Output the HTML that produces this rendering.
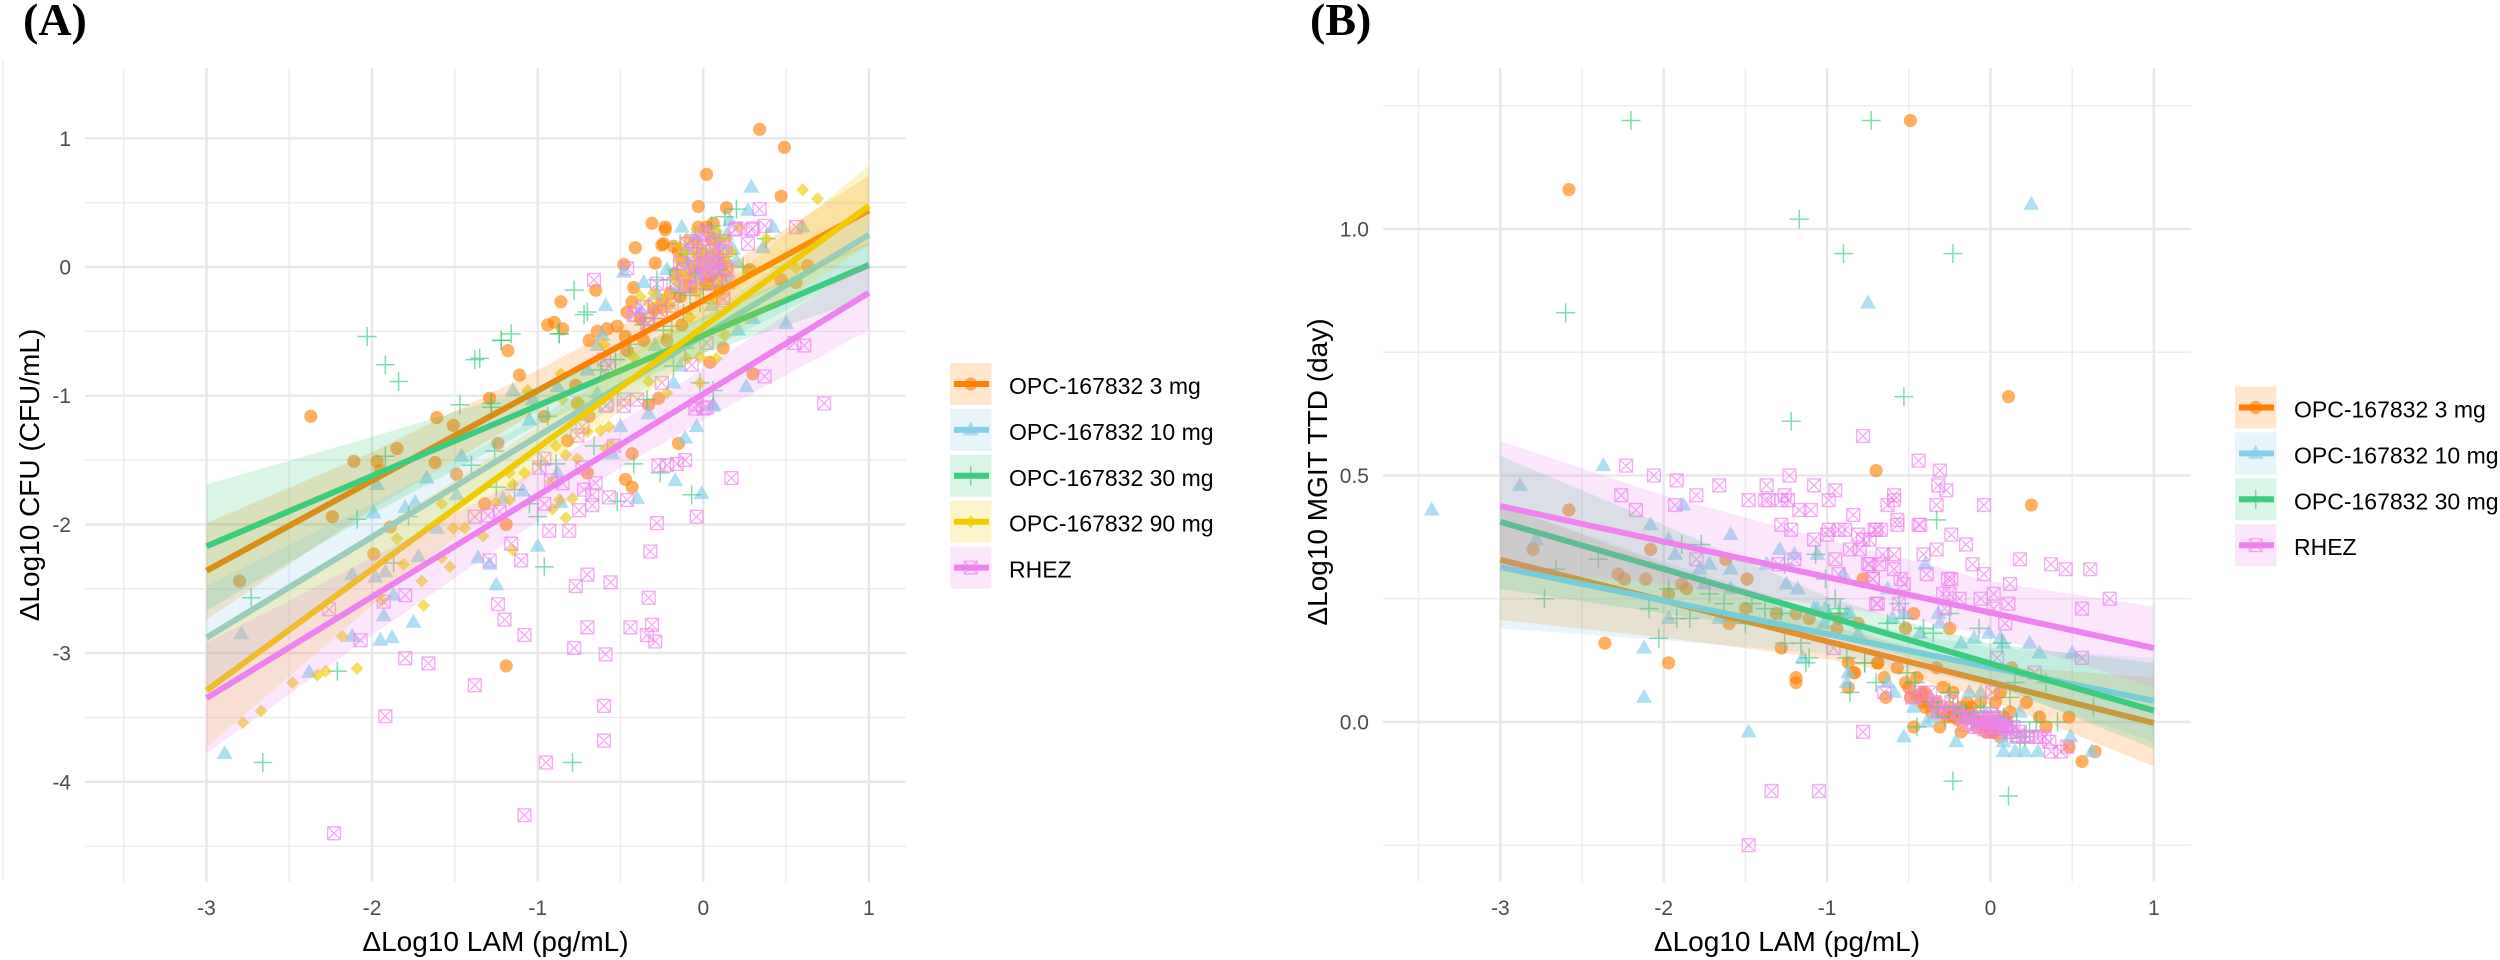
<!DOCTYPE html>
<html>
<head>
<meta charset="utf-8">
<title>Delta Log10 LAM regressions</title>
<style>
html,body{margin:0;padding:0;background:#fff;}
svg{display:block;}
text{font-family:"Liberation Sans",Arial,sans-serif;}
</style>
</head>
<body>
<svg id="fig" xmlns="http://www.w3.org/2000/svg" width="2500" height="960" viewBox="0 0 2500 960"></svg>
<script>
/* ---------- shared ---------- */
const xTicksShared = [-3,-2,-1,0,1];
const ribbonX = [-3,-2,-1,-0.5,0,1];
const lineX = [-3,1];
const legendLabelsA = ['OPC-167832 3 mg','OPC-167832 10 mg','OPC-167832 30 mg','OPC-167832 90 mg','RHEZ'];
const legendLabelsB = ['OPC-167832 3 mg','OPC-167832 10 mg','OPC-167832 30 mg','RHEZ'];

/* ---------- panel A values ---------- */
const aYTicks = [-4,-3,-2,-1,0,1];
const aOrangePts = [[.34,1.07],[.49,.93],[.02,.72],[.47,.55],[-.03,.47],[.14,.46],[-.31,.34],[-.23,.31],[-.23,.29],[-.41,.15],[-.24,.18],[-.25,.17],[-.48,.02],[-.29,.03],[-.03,.31],[.06,.34],[.02,.31],[-.42,-.16],[-.65,-.18],[-.86,-.27],[-.43,-.27],[-.46,-.35],[-.94,-.45],[-.9,-.43],[-.85,-.48],[-.64,-.5],[-.58,-.48],[-.52,-.46],[-.69,-.57],[-.47,-.54],[-1.18,-.65],[-1.11,-.84],[-1.29,-1.02],[.3,-.83],[.04,-.74],[-.27,-1.02],[.47,-.1],[.56,-.12],[.63,.01],[.28,-.02],[.12,-.63],[-.13,-.45],[-.22,-.57],[-.36,-.57],[-.46,-.65],[-.77,-.92],[-.76,-1.06],[-.33,-1.07],[-.1,-.08],[-.06,0],[.02,-.13],[.06,.05],[.1,-.18],[-.02,.1],[-.14,-.23],[-.18,.16],[-2.37,-1.16],[-1.61,-1.17],[-1.51,-1.23],[-1.85,-1.41],[-2.11,-1.51],[-1.97,-1.51],[-1.62,-1.52],[-1.24,-1.37],[-1.49,-1.61],[-2.24,-1.94],[-2.8,-2.44],[-1.99,-2.23],[-1.89,-2.02],[-1.19,-3.1],[-1.32,-1.84],[-.82,-1.35],[-1.19,-2],[-.7,-1.6],[-.43,-1.45],[-.47,-1.65],[-.43,-1.71],[-.15,-1.37],[-.96,-1.16],[-.69,-1.16],[-1.95,-1.58],[-.15,.12],[-.12,.05],[-.08,-.15],[-.04,-.04],[.01,.03],[.04,-.07],[.08,.1],[.11,.02],[-.17,-.05],[-.2,-.2],[-.25,-.26],[-.3,-.33],[-.38,-.4],[-.05,.2],[.05,.22]];
const aSkyPts = [[.29,.62],[.27,.44],[-.13,.31],[.6,.31],[.42,.31],[-.59,-.3],[-.36,-.12],[-.22,-.02],[-.48,-.04],[.36,.15],[.5,-.44],[.26,-.93],[.21,-.49],[.3,-.4],[-.61,-.53],[-.64,-.61],[-.7,-.8],[-.29,-.61],[-1.15,-.96],[-.88,-.93],[-.14,-.77],[-.18,-.9],[.06,-1.07],[-.64,-.98],[-1.03,-1.03],[.08,.27],[.16,.36],[.04,.1],[-.08,.02],[.1,.18],[0,.12],[.2,.05],[-.15,-.15],[-.28,-.2],[.15,-.1],[.05,-.3],[-.38,-.33],[-2.89,-3.78],[-2.79,-2.85],[-2.12,-2.39],[-1.98,-2.41],[-1.92,-2.37],[-1.72,-2.25],[-1.61,-2.03],[-1.99,-1.91],[-1.97,-1.69],[-1.8,-1.87],[-1.74,-1.83],[-1.67,-1.64],[-1.46,-1.47],[-1.05,-1.19],[-1.49,-1.77],[-1.36,-2.26],[-1.29,-2.31],[-1.25,-2.47],[-1,-2.17],[-.17,-1.66],[-.01,-1.76],[-.04,-1.24],[.06,-1.08],[-.11,-1.33],[-.4,-1.8],[-.86,-1.83],[-.88,-1.6],[-1.87,-2.55],[-1.93,-2.71],[-1.75,-2.76],[-2.12,-2.87],[-1.95,-2.9],[-1.88,-2.88],[-2.38,-3.15],[-1.09,-1.74],[-1.21,-1.8],[-.5,-1.24],[-.33,-1.14],[-.55,-1.45],[.02,.03],[.07,.06],[-.03,-.08],[.11,-.04],[-.1,.14],[.14,.25],[-.05,.25],[.18,.14]];
const aGreenPts = [[-.78,-.18],[-.7,-.35],[-.87,-.52],[-1.16,-.52],[-1.22,-.57],[.2,.45],[.13,.39],[-.14,.18],[.38,.22],[.24,0],[-.53,-.72],[-.62,-.8],[-.3,-.4],[-.19,-.46],[-.24,-.49],[-.11,-.63],[-.18,-.77],[-.02,-.9],[.06,-.96],[-.34,-1.03],[-1.28,-1.06],[-1.35,-.71],[.02,.08],[-.05,-.05],[.08,-.02],[-.1,.1],[-.14,-.2],[.1,.22],[-.2,-.1],[.15,.1],[-.02,-.28],[.05,.32],[-.28,-.1],[-.12,-.36],[-2.03,-.54],[-1.92,-.76],[-1.84,-.89],[-1.47,-1.07],[-1.28,-1.09],[-1.38,-.72],[-1.22,-.57],[-.87,-.52],[-.72,-.37],[-1.26,-1.43],[-1.4,-1.54],[-1.92,-1.47],[-2.09,-1.96],[-1.78,-1.94],[-2.73,-2.57],[-2.21,-3.14],[-2.66,-3.85],[-.79,-3.85],[-.96,-2.33],[-1,-1.94],[-.89,-1.53],[-.66,-1.39],[-.42,-1.53],[-.26,-1.6],[-.07,-1.77],[-.52,-1.82],[-1.25,-1.71],[-1.14,-1.73],[-.94,-1.16],[-1.87,-2.3],[-1.05,-1.84],[-.98,-1.53],[-.06,.15],[.04,.0],[.12,.08],[-.16,-.02],[-.08,-.22],[.0,-.17],[-.22,-.3],[.07,-.15],[-.36,-.45],[-.45,-.6]];
const aYellowPts = [[-2.48,-3.23],[-2.33,-3.17],[-2.28,-3.14],[-2.09,-3.12],[-2.67,-3.45],[-2.78,-3.54],[-2.18,-2.87],[-1.69,-2.63],[-1.94,-2.59],[-1.81,-2.31],[-1.7,-2.44],[-1.53,-2.33],[-1.85,-2.11],[-1.58,-1.84],[-1.58,-2.26],[-1.15,-2.2],[-1.33,-2.09],[-1.51,-2.03],[-1.44,-2.03],[-1.25,-1.83],[-1.17,-1.81],[-1.15,-1.69],[-1.08,-1.6],[-1.17,-1.6],[-.91,-1.88],[-.87,-1.81],[-.79,-1.8],[-.83,-1.95],[-.89,-1.39],[-.83,-1.46],[-.76,-1.49],[-.7,-1.28],[-.62,-1.27],[-.57,-1.24],[-.59,-1.41],[-.55,-1.38],[-.92,-1.67],[.6,.6],[.69,.53],[.38,.22],[.22,.31],[.14,.22],[-.13,-.04],[-.38,-.23],[-.3,-.2],[-.6,-.6],[-.02,-.9],[.08,-.71],[.13,-.53],[-.33,-.89],[-.22,-.98],[-1.06,-.96],[-.86,-.83],[-.42,-.7],[-.1,-.71],[-.02,-.7],[.56,-.01],[-.08,-.39],[-.25,-.33],[-.75,-1.05],[-.85,-1.03],[-.05,.1],[.03,.05],[.08,.02],[-.08,-.05],[-.02,-.12],[.1,-.1],[-.15,.05],[.05,.18],[-.1,.22],[0,-.02],[.12,.1],[.03,.25],[-.03,.17],[.15,-.02],[-.13,-.15],[-.04,-.2],[-.2,-.3],[.07,-.25],[-.06,.02],[.01,.12],[.06,.1],[-.11,.12],[.1,.2],[.14,.05],[-.01,.07],[.04,-.05],[-.09,-.1],[.09,-.17],[-.17,-.1],[-.23,-.25],[-.28,-.3],[-.33,-.28],[.17,.12],[-.04,.29],[.08,.28],[.02,-.14],[-.14,.16]];
const aPinkPts = [[-.66,-.1],[-.46,-.01],[-.28,-.13],[-.29,-.3],[-.19,-.3],[-.41,-.37],[.34,.45],[.37,.32],[.56,.31],[.2,.3],[.27,.18],[.3,.3],[-.1,.18],[-.14,.03],[.13,.15],[.02,.27],[.61,-.61],[.55,-.59],[.37,-.85],[-.07,-.76],[.02,-.59],[-.25,-.9],[-.48,-1.03],[-.4,-1.03],[.73,-1.06],[-.33,-.44],[.12,-.26],[-.57,-.77],[-.6,-.72],[-.58,-1.07],[-.04,-1.07],[.02,-1.09],[.05,.05],[-.05,.1],[.1,.12],[-.12,-.02],[-.08,-.15],[.02,-.05],[.08,-.02],[.13,0],[-.02,.02],[-.18,-.13],[0,.15],[.03,.22],[-.07,.2],[.12,.2],[.15,-.12],[-2.23,-4.4],[-1.08,-4.26],[-.95,-3.85],[-.6,-3.68],[-.6,-3.41],[-1.92,-3.49],[-1.38,-3.25],[-1.66,-3.08],[-1.8,-3.04],[-2.07,-2.9],[-2.26,-2.66],[-1.93,-2.6],[-1.8,-2.55],[-1.24,-2.62],[-1.2,-2.74],[-1.08,-2.86],[-1.29,-2.28],[-1.16,-2.15],[-1.1,-2.28],[-.93,-2.05],[-.81,-2.05],[-.75,-1.89],[-.67,-1.85],[-.57,-1.79],[-.46,-1.81],[-.28,-1.99],[-.04,-1.94],[-.32,-2.21],[-.7,-2.39],[-.77,-2.48],[-.56,-2.45],[-.33,-2.57],[-.7,-2.8],[-.44,-2.8],[-.31,-2.78],[-.34,-2.86],[-.29,-2.91],[-.78,-2.96],[-.59,-3.01],[.17,-1.64],[0,-1.1],[-.05,-1.1],[-.27,-1.54],[-.22,-1.54],[-.16,-1.53],[-.11,-1.5],[-.96,-1.84],[-.65,-1.68],[-.72,-1.73],[-.67,-1.77],[-.54,-1.39],[-.96,-1.49],[-.99,-1.56],[-.92,-1.66],[-.85,-1.68],[-.73,-1.56],[-.76,-1.31],[-.73,-1.24],[-1.38,-1.94],[-1.3,-1.93],[-1.23,-1.9],[-.59,-1.08],[-.48,-1.08],[-.01,.26],[.19,.29],[.29,.29],[.06,.13],[-.05,0],[0,.03],[.08,.03],[.14,-.02],[.03,-.05],[-.04,-.08],[-.11,-.15],[.02,-.13],[.1,-.11],[.06,0],[-.37,-.31],[-.42,-.37],[-.26,-.35],[-.34,-.44],[.12,-.24]];
const aOrangeFit = [-2.36,.44];
const aSkyFit = [-2.88,.25];
const aGreenFit = [-2.17,.015];
const aYellowFit = [-3.29,.476];
const aPinkFit = [-3.35,-.2];
const aOrangeUpper = [-1.99,-1.44,-.8,-.46,-.11,.71];
const aOrangeLower = [-2.74,-1.88,-1.12,-.76,-.41,.17];
const aSkyUpper = [-2.48,-1.84,-1.175,-.78,-.39,.5];
const aSkyLower = [-3.28,-2.36,-1.455,-1.06,-.67,0];
const aGreenUpper = [-1.69,-1.32,-.93,-.66,-.39,.195];
const aGreenLower = [-2.67,-1.92,-1.23,-.94,-.67,-.24];
const aYellowUpper = [-2.85,-2.07,-1.24,-.76,-.27,.79];
const aYellowLower = [-3.73,-2.63,-1.58,-1.12,-.67,.17];
const aPinkUpper = [-2.92,-2.26,-1.575,-1.2,-.79,.05];
const aPinkLower = [-3.78,-2.86,-1.975,-1.56,-1.19,-.49];

/* ---------- panel B values ---------- */
const bYTicks = [0,.5,1];
const bYTickLabels = ['0.0','0.5','1.0'];
const bOrangePts = [[-2.58,1.08],[-.49,1.22],[-2.58,.43],[-2.8,.35],[-2.08,.35],[-2.28,.3],[-2.24,.29],[-2.11,.29],[-1.89,.28],[-1.86,.27],[-1.62,.33],[-1.49,.29],[-1.97,.26],[-1.5,.23],[-1.31,.22],[-1.19,.22],[-1.11,.21],[-1.6,.2],[-2.36,.16],[-1.97,.12],[-1.28,.15],[-.87,.12],[-.84,.1],[-1.19,.09],[-.7,.51],[-.78,.29],[-.93,.21],[-.94,.19],[-.81,.2],[-.69,.12],[.11,.66],[.25,.44],[-.47,.22],[-.25,.19],[-.52,.19],[.13,.11],[-.33,.11],[-1.19,.08],[-.87,.07],[-.83,.1],[-.69,.12],[-.65,.09],[-.64,.05],[-.57,.11],[-.52,.08],[-.45,.09],[-.42,.06],[-.49,.05],[-.47,-.01],[-.38,.04],[-.31,-.01],[-.23,.01],[-.29,.07],[-.23,.06],[-.18,-.02],[-.06,.04],[.03,.04],[0,-.02],[.22,.04],[.3,.01],[.48,.01],[.34,-.01],[.48,-.05],[.64,-.06],[.56,-.08],[.06,.06],[-.06,0],[.06,-.03],[-.14,.04],[-.25,.03],[-.14,.02],[-.02,-.01],[.02,-.02],[.1,0],[-.45,.05],[-.42,.04],[-.4,.03],[-.36,.02],[-.3,.02],[-.27,.01],[-.22,.02],[-.18,.03],[-.12,.03],[-.1,.01],[-.08,-.01],[-.03,-.02],[0,0],[.03,-.015],[.05,-.01],[.08,.01],[.12,.02],[-.5,.07],[-.4,.06],[-.33,.04],[-.2,.005],[-.15,.005]];
const bSkyPts = [[-3.42,.43],[.25,1.05],[-.75,.85],[-2.88,.48],[-2.37,.52],[-2.78,.37],[-2.08,.4],[-1.97,.37],[-1.88,.44],[-1.93,.34],[-1.72,.32],[-1.59,.38],[-1.59,.31],[-1.78,.31],[-1.97,.21],[-2.12,.15],[-1.75,.28],[-1.66,.21],[-1.59,.27],[-1.37,.32],[-1.29,.35],[-1.2,.34],[-1.25,.28],[-1.18,.27],[-1.06,.34],[-.9,.3],[-1.08,.23],[-1.01,.23],[-.86,.22],[-1.02,.2],[-1.15,.13],[-.81,.18],[-.87,.1],[-.4,.32],[-.63,.27],[-.53,.22],[-.32,.22],[-.31,.2],[-.18,.16],[-.1,.17],[-.01,.18],[.06,.17],[.08,.16],[.24,.16],[.3,.14],[.5,.14],[-.43,.18],[-.6,.21],[-.88,.22],[-1.06,.23],[-.88,.08],[-.59,.06],[-.47,.03],[-.39,0],[-.53,-.03],[-.21,-.04],[.08,-.04],[.08,-.06],[.15,-.06],[.21,-.06],[.29,-.06],[.62,-.06],[.49,-.03],[.18,.02],[-.13,.06],[-.06,.06],[-.35,.01],[.08,0],[-.63,.08],[-1.48,-.02],[-2.12,.05]];
const bGreenPts = [[-2.2,1.22],[-.73,1.22],[-1.17,1.02],[-.9,.95],[-.23,.95],[-2.6,.83],[-.53,.66],[-1.22,.61],[-2.4,.33],[-1.89,.36],[-1.77,.36],[-2.66,.31],[-2.73,.25],[-2.09,.23],[-1.97,.27],[-1.92,.21],[-1.84,.21],[-1.72,.26],[-1.63,.24],[-2.03,.17],[-1.46,.24],[-1.38,.23],[-1.5,.2],[-1.28,.22],[-1.26,.16],[-1.16,.16],[-1.11,.13],[-1.13,.12],[-.95,.25],[-.99,.22],[-.93,.22],[-.88,.13],[-.77,.12],[-1.07,.34],[-1.01,.29],[-1.26,.32],[-.33,.41],[-.63,.2],[-.92,.23],[-.56,.24],[-.53,.21],[-.41,.19],[-.35,.18],[-.25,.22],[-.07,.19],[.07,.16],[-.86,.06],[-.7,.08],[-.77,.12],[-.45,-.01],[-.51,.1],[-.46,.08],[-.25,.06],[-.23,.03],[-.18,.02],[-.12,0],[.12,.05],[.15,.08],[.34,.08],[.63,.03],[.41,0],[.28,0],[.18,-.04],[.1,-.02],[.24,-.02],[-.04,.02],[.04,.01],[-.23,-.12],[.11,-.15],[-.35,.04],[-.32,.03],[-.28,.01],[-.2,.03],[-.15,.02],[-.1,.01],[-.06,.03],[0,.02],[.05,-.01],[.08,.01],[.13,-.02],[.16,0],[.21,-.03]];
const bPinkPts = [[-2.23,.52],[-2.06,.5],[-1.92,.49],[-1.8,.46],[-1.66,.48],[-2.26,.46],[-2.17,.43],[-1.93,.44],[-1.48,.45],[-1.37,.48],[-1.23,.5],[-1.38,.45],[-1.36,.45],[-1.28,.45],[-1.26,.46],[-1.24,.45],[-1.17,.43],[-1.1,.43],[-1.08,.48],[-.95,.47],[-.99,.45],[-.78,.58],[-1.28,.4],[-1.22,.39],[-1.08,.37],[-1,.38],[-.99,.39],[-.93,.39],[-.89,.39],[-.84,.42],[-.81,.38],[-.86,.35],[-.8,.35],[-.71,.39],[-1.2,.33],[-.95,.33],[-1.8,.33],[-1.3,.32],[-.75,.32],[-.93,.3],[-.72,.29],[-.7,.24],[-.44,.53],[-.31,.51],[-.32,.48],[-.27,.47],[-.33,.44],[-.59,.46],[-.59,.45],[-.63,.44],[-.04,.44],[-.57,.41],[-.57,.4],[-.44,.4],[-.43,.4],[-.7,.39],[-.67,.39],[-.24,.38],[-.15,.36],[-.33,.35],[-.41,.34],[-.59,.34],[-.66,.34],[-.74,.37],[-.78,.37],[-.11,.32],[-.04,.3],[-.39,.3],[.18,.33],[.37,.32],[.46,.31],[.61,.31],[.73,.25],[.12,.28],[-.26,.29],[-.24,.29],[-.59,.31],[-.55,.29],[-.53,.28],[-.74,.32],[-.68,.32],[-.72,.29],[-.29,.26],[-.25,.26],[-.19,.25],[-.06,.25],[.02,.26],[.11,.24],[.02,.23],[.56,.23],[.09,.2],[-.69,.24],[-.56,.24],[.56,.13],[.04,.13],[.27,.1],[-.96,.15],[-.28,.23],[-1.48,-.25],[-1.34,-.14],[-1.05,-.14],[-.78,-.02],[-.65,.06],[-.37,.06],[-.31,.03],[-.15,.01],[-.08,0],[-.02,0],[.02,-.01],[.08,0],[.14,-.01],[.2,-.03],[.3,-.03],[.37,-.06],[.43,-.06],[.47,-.05],[.01,.06],[.36,-.04],[-.02,-.01],[.02,.01],[-.06,.01],[.05,-.02],[.1,-.01],[-.1,-.01],[-.13,.01],[0,0],[.04,0],[.07,-.01],[-.04,-.015],[0,-.02],[.01,.015],[-.2,.02],[.12,-.02],[.16,-.03],[-.24,.04],[-.48,.05],[-.46,.06],[-.4,.05],[-.34,.04],[-.32,.02],[-.27,.02],[-.18,.01],[-.16,-.005],[-.12,0],[-.07,-.01],[-.05,.005],[-.01,.005],[.03,-.01],[.06,0],[.09,-.015],[.13,-.02],[.18,-.02],[.23,-.03],[.28,-.03],[.33,-.03]];
const bOrangeFit = [.329,-.002];
const bSkyFit = [.314,.043];
const bGreenFit = [.406,.023];
const bPinkFit = [.438,.15];
const bOrangeUpper = [.44,.32,.198,.152,.115,.09];
const bOrangeLower = [.207,.171,.128,.092,.045,-.09];
const bSkyUpper = [.44,.326,.218,.179,.151,.13];
const bSkyLower = [.19,.166,.138,.109,.071,-.04];
const bGreenUpper = [.54,.4,.254,.202,.159,.12];
const bGreenLower = [.27,.22,.174,.132,.079,-.055];
const bPinkUpper = [.57,.46,.37,.33,.285,.234];
const bPinkLower = [.31,.28,.235,.21,.175,.07];

/* ---------- drawing ---------- */
const NS = 'http://www.w3.org/2000/svg';
const svg = document.getElementById('fig');
const COL = {orange:'#ff8000', sky:'#87ceeb', green:'#3ccb7f', yellow:'#efcb00', pink:'#ee82ee'};

function mk(parent, tag, attrs){
  const e = document.createElementNS(NS, tag);
  for (const k in attrs) e.setAttribute(k, attrs[k]);
  parent.appendChild(e);
  return e;
}
function group(parent, name){
  const g = document.createElementNS(NS, 'g');
  
  
  parent.appendChild(g);
  return g;
}
function label(parent, name, x, y, str, size, fill, anchor, extra){
  const t = mk(parent, 'text', Object.assign({x:x, y:y, 'font-size':size, fill:fill, 'text-anchor':anchor||'start'}, extra||{}));
  
  
  t.textContent = str;
  return t;
}
function marker(parent, kind, cx, cy, color, alpha, name){
  let e;
  if (kind === 'circle'){
    e = mk(parent, 'circle', {cx:cx, cy:cy, r:6.6, fill:color, 'fill-opacity':alpha});
  } else if (kind === 'triangle'){
    e = mk(parent, 'polygon', {points:[cx,cy-8.5,cx+8,cy+5.5,cx-8,cy+5.5].join(' '), fill:color, 'fill-opacity':alpha});
  } else if (kind === 'plus'){
    e = mk(parent, 'path', {d:`M${cx-9.5} ${cy}H${cx+9.5}M${cx} ${cy-9.5}V${cy+9.5}`, stroke:color, 'stroke-width':1.5, 'stroke-opacity':alpha, fill:'none'});
  } else if (kind === 'diamond'){
    e = mk(parent, 'polygon', {points:[cx,cy-6.5,cx+6.5,cy,cx,cy+6.5,cx-6.5,cy].join(' '), fill:color, 'fill-opacity':alpha});
  } else {
    const r = 6.4;
    e = mk(parent, 'path', {d:`M${cx-r} ${cy-r}H${cx+r}V${cy+r}H${cx-r}ZM${cx-r} ${cy-r}L${cx+r} ${cy+r}M${cx+r} ${cy-r}L${cx-r} ${cy+r}`, stroke:color, 'stroke-width':1.4, 'stroke-opacity':alpha, fill:'none'});
  }
  
  
  return e;
}
function drawPanel(p){
  const root = group(svg, p.id);
  const sx = v => p.x0 + (v - p.xAt0) * p.xUnit;
  const sy = v => p.y0 - v * p.yUnit;
  const grid = group(root, 'grid');
  p.xMinor.forEach(v => mk(grid,'line',{x1:sx(v),x2:sx(v),y1:p.top,y2:p.bottom,stroke:'#ececec','stroke-width':1.4}));
  p.yMinor.forEach(v => mk(grid,'line',{x1:p.left,x2:p.right,y1:sy(v),y2:sy(v),stroke:'#ececec','stroke-width':1.4}));
  p.xMajor.forEach(v => mk(grid,'line',{x1:sx(v),x2:sx(v),y1:p.top,y2:p.bottom,stroke:'#e8e8e8','stroke-width':2.4}));
  p.yMajor.forEach(v => mk(grid,'line',{x1:p.left,x2:p.right,y1:sy(v),y2:sy(v),stroke:'#e8e8e8','stroke-width':2.4}));
  p.series.forEach(s => {
    const g = group(root, s.key + '-points');
    s.pts.forEach(d => marker(g, s.kind, sx(d[0]), sy(d[1]), s.color, s.alpha, s.key + '-point'));
  });
  p.series.forEach(s => {
    const g = group(root, s.key + '-fit');
    const up = ribbonX.map((x,i) => sx(x) + ',' + sy(s.upper[i]));
    const lo = ribbonX.map((x,i) => sx(x) + ',' + sy(s.lower[i])).reverse();
    const band = mk(g,'polygon',{points:up.concat(lo).join(' '),fill:s.color,'fill-opacity':.2});
    
    
    const ln = mk(g,'line',{x1:sx(lineX[0]),y1:sy(s.fit[0]),x2:sx(lineX[1]),y2:sy(s.fit[1]),stroke:s.color,'stroke-width':6});
    
    
  });
  const xa = group(root, 'x-axis');
  xTicksShared.forEach(v => label(xa,'x-tick-label',sx(v),915,String(v),21,'#4d4d4d','middle'));
  label(xa,'x-axis-title',(p.left+p.right)/2,951,'\u0394Log10 LAM (pg/mL)',28,'#000','middle');
  const ya = group(root, 'y-axis');
  p.yTicks.forEach((v,i) => label(ya,'y-tick-label',p.left-14,sy(v)+7.5,p.yLabels[i],21,'#4d4d4d','end'));
  const t = label(ya,'y-axis-title',p.titleX,p.titleY,p.title,28,'#000','middle');
  t.setAttribute('transform',`rotate(-90 ${p.titleX} ${p.titleY})`);
  label(root,'panel-letter',p.letterX,35,p.letter,46,'#000','start',{'font-weight':'bold',style:'font-family:"Liberation Serif",serif'});
  const leg = group(root, 'legend');
  p.series.forEach((s,i) => {
    const e = group(leg, 'legend-entry');
    const by = p.legendY + i*45.9;
    mk(e,'rect',{x:p.legendX,y:by,width:41.5,height:42,fill:s.color,'fill-opacity':.2});
    marker(e,s.kind,p.legendX+20.7,by+21,s.color,s.alpha,'legend-marker');
    mk(e,'line',{x1:p.legendX+4,x2:p.legendX+39,y1:by+21,y2:by+21,stroke:s.color,'stroke-width':6});
    label(e,'legend-label',p.legendX+59,by+31,s.name,23,'#000','start');
  });
}

/* stray crop edge line at far left of the source figure */
const edge = mk(svg,'line',{x1:3,x2:3,y1:60,y2:880,stroke:'#efefef','stroke-width':1.6});



drawPanel({
  id:'panel-a', letter:'(A)', letterX:23,
  x0:703.3, xAt0:0, xUnit:165.6, y0:267, yUnit:128.7,
  left:85, right:906, top:68, bottom:882,
  xMajor:[-3,-2,-1,0,1], xMinor:[-3.5,-2.5,-1.5,-.5,.5],
  yMajor:[-4,-3,-2,-1,0,1], yMinor:[-4.5,-3.5,-2.5,-1.5,-.5,.5,1.5].filter(v=>v<1.5),
  yTicks:aYTicks, yLabels:aYTicks.map(String),
  title:'\u0394Log10 CFU (CFU/mL)', titleX:39, titleY:475,
  legendX:950, legendY:363,
  series:[
    {key:'opc-3mg',name:legendLabelsA[0],kind:'circle',color:COL.orange,alpha:.62,pts:aOrangePts,fit:aOrangeFit,upper:aOrangeUpper,lower:aOrangeLower},
    {key:'opc-10mg',name:legendLabelsA[1],kind:'triangle',color:COL.sky,alpha:.65,pts:aSkyPts,fit:aSkyFit,upper:aSkyUpper,lower:aSkyLower},
    {key:'opc-30mg',name:legendLabelsA[2],kind:'plus',color:COL.green,alpha:.65,pts:aGreenPts,fit:aGreenFit,upper:aGreenUpper,lower:aGreenLower},
    {key:'opc-90mg',name:legendLabelsA[3],kind:'diamond',color:COL.yellow,alpha:.62,pts:aYellowPts,fit:aYellowFit,upper:aYellowUpper,lower:aYellowLower},
    {key:'rhez',name:legendLabelsA[4],kind:'square',color:COL.pink,alpha:.65,pts:aPinkPts,fit:aPinkFit,upper:aPinkUpper,lower:aPinkLower}
  ]
});
drawPanel({
  id:'panel-b', letter:'(B)', letterX:1310,
  x0:1990.5, xAt0:0, xUnit:163.4, y0:722, yUnit:493,
  left:1383, right:2191, top:68, bottom:882,
  xMajor:[-3,-2,-1,0,1], xMinor:[-3.5,-2.5,-1.5,-.5,.5],
  yMajor:[0,.5,1], yMinor:[-.25,.25,.75,1.25],
  yTicks:bYTicks, yLabels:bYTickLabels,
  title:'\u0394Log10 MGIT TTD (day)', titleX:1327, titleY:472,
  legendX:2235, legendY:386.5,
  series:[
    {key:'opc-3mg',name:legendLabelsB[0],kind:'circle',color:COL.orange,alpha:.62,pts:bOrangePts,fit:bOrangeFit,upper:bOrangeUpper,lower:bOrangeLower},
    {key:'opc-10mg',name:legendLabelsB[1],kind:'triangle',color:COL.sky,alpha:.65,pts:bSkyPts,fit:bSkyFit,upper:bSkyUpper,lower:bSkyLower},
    {key:'opc-30mg',name:legendLabelsB[2],kind:'plus',color:COL.green,alpha:.65,pts:bGreenPts,fit:bGreenFit,upper:bGreenUpper,lower:bGreenLower},
    {key:'rhez',name:legendLabelsB[3],kind:'square',color:COL.pink,alpha:.65,pts:bPinkPts,fit:bPinkFit,upper:bPinkUpper,lower:bPinkLower}
  ]
});
</script>
</body>
</html>
